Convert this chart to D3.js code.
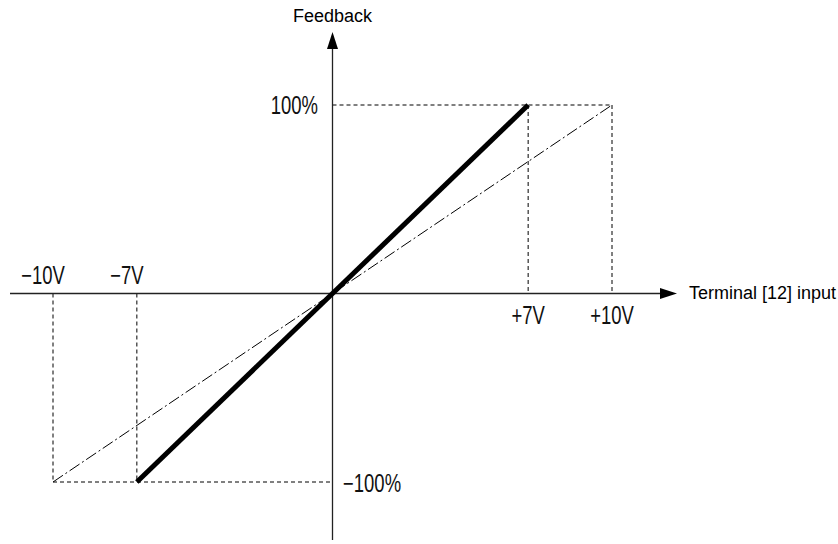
<!DOCTYPE html>
<html><head><meta charset="utf-8">
<script src="https://cdn.jsdelivr.net/npm/d3@7"></script>
<style>body{margin:0;background:#fff}svg{display:block}</style>
</head><body>
<svg id="c" width="838" height="544"></svg>
<script>
const xTicks = [-10, -7, 7, 10];
const xTickLabels = ["\u221210V", "\u22127V", "+7V", "+10V"];
const yTicks = [100, -100];
const yTickLabels = ["100%", "\u2212100%"];
const solidSeries = [[-7, -100], [7, 100]];
const dashDotSeries = [[-10, -100], [10, 100]];
const xTitle = "Terminal [12] input";
const yTitle = "Feedback";

const svg = d3.select("#c");
const x = d3.scaleLinear().domain([-10, 10]).range([53, 612]);
const y = d3.scaleLinear().domain([-100, 100]).range([482, 105]);
const x0 = x(0), y0 = y(0);

// guide dashed lines
const g = svg.append("g").attr("stroke", "#000").attr("stroke-width", 1).attr("stroke-dasharray", "4,3").attr("fill", "none");
g.append("line").attr("x1", x0).attr("x2", x(10)).attr("y1", y(100)).attr("y2", y(100));
g.append("line").attr("x1", x(-10)).attr("x2", x0).attr("y1", y(-100)).attr("y2", y(-100));
[7, 10].forEach(v => g.append("line").attr("x1", x(v)).attr("x2", x(v)).attr("y1", y(100)).attr("y2", y0));
[-7, -10].forEach(v => g.append("line").attr("x1", x(v)).attr("x2", x(v)).attr("y1", y0).attr("y2", y(-100)));

// axes
const ax = svg.append("g").attr("stroke", "#222").attr("stroke-width", 1.3);
ax.append("line").attr("x1", 10).attr("x2", 662).attr("y1", y0).attr("y2", y0);
ax.append("line").attr("x1", x0).attr("x2", x0).attr("y1", 540).attr("y2", 48);
svg.append("path").attr("d", `M${x0},32 L${x0-5.5},49 L${x0+5.5},49 Z`).attr("fill", "#000");
svg.append("path").attr("d", `M677,${y0} L660,${y0-5.5} L660,${y0+5.5} Z`).attr("fill", "#000");

// series
const line = d3.line().x(d => x(d[0])).y(d => y(d[1]));
svg.append("path").attr("d", line(dashDotSeries)).attr("stroke", "#000").attr("stroke-width", 1).attr("fill", "none").attr("stroke-dasharray", "12,3,2,3");
svg.append("path").attr("d", line(solidSeries)).attr("stroke", "#000").attr("stroke-width", 5).attr("fill", "none");

// tick labels (condensed look)
const tf = "'Liberation Sans',Arial,sans-serif";
function narrowText(tx, ty, anchor, str) {
  svg.append("text")
    .attr("transform", `translate(${tx},${ty}) scale(0.74,1)`)
    .attr("text-anchor", anchor).attr("font-family", tf).attr("font-size", 25).attr("fill", "#111").text(str);
}
xTicks.forEach((v, i) => {
  if (v < 0) narrowText(x(v) - 10, 284, "middle", xTickLabels[i]);
  else narrowText(x(v), 324, "middle", xTickLabels[i]);
});
narrowText(318, y(100) + 9, "end", yTickLabels[0]);
narrowText(343, y(-100) + 10, "start", yTickLabels[1]);

// titles
const af = "'Liberation Sans',Arial,sans-serif";
svg.append("text").attr("x", 293).attr("y", 22).attr("font-family", af).attr("font-size", 18).text(yTitle);
svg.append("text").attr("x", 689).attr("y", 299).attr("font-family", af).attr("font-size", 18).text(xTitle);
</script>
</body></html>
